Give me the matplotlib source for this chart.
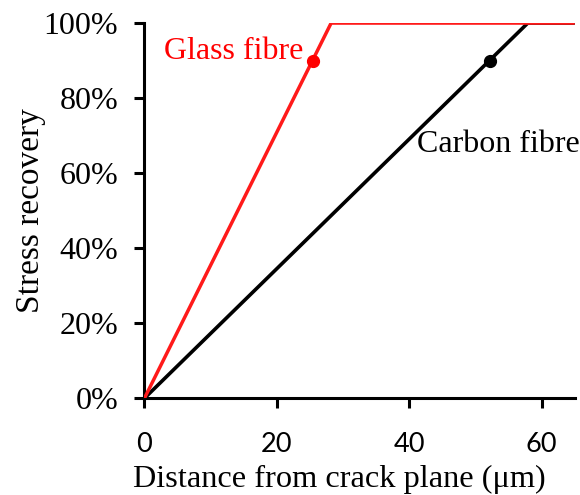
import matplotlib
matplotlib.use("Agg")
import matplotlib.pyplot as plt
from matplotlib.ticker import FuncFormatter

# Stress recovery profiles (distance in µm, recovery in %)
glass_x = [0, 28.2, 65]
glass_y = [0, 100, 100]
carbon_x = [0, 57.9, 65]
carbon_y = [0, 100, 100]

# 90 % recovery points
glass_pt = (25.5, 90)
carbon_pt = (52.2, 90)

x_ticks = [0, 20, 40, 60]
y_ticks = [0, 20, 40, 60, 80, 100]

serif = "Liberation Serif"

fig = plt.figure(figsize=(5.8, 4.95), dpi=100)
ax = fig.add_axes([0.249, 0.1954, 0.742, 0.758])

ax.plot(carbon_x, carbon_y, color="black", lw=2.6, solid_capstyle="butt", zorder=2)
ax.plot(glass_x, glass_y, color="#ff1a1a", lw=2.5, solid_capstyle="butt", zorder=3)
ax.plot(*carbon_pt, "o", color="black", ms=8.5, zorder=4)
ax.plot(*glass_pt, "o", color="#ff0000", ms=8.5, zorder=4)

ax.text(3.0, 92.5, "Glass fibre", color="#ff0000", fontsize=23, family=serif,
        va="center", ha="left")
ax.text(41.2, 67.6, "Carbon fibre", color="black", fontsize=23, family=serif,
        va="center", ha="left")

ax.set_xlim(0, 65)
ax.set_ylim(0, 100)
ax.set_xticks(x_ticks)
ax.set_yticks(y_ticks)
ax.yaxis.set_major_formatter(FuncFormatter(lambda v, p: f"{v:.0f}%"))

for s in ("top", "right"):
    ax.spines[s].set_visible(False)
for s in ("left", "bottom"):
    ax.spines[s].set_linewidth(2.2)

ax.tick_params(axis="both", direction="out", length=7, width=2.2)
for lab in ax.get_xticklabels():
    lab.set_family("Lato")
    lab.set_fontsize(19.5)
for lab in ax.get_yticklabels():
    lab.set_family(serif)
    lab.set_fontsize(23)
ax.tick_params(axis="x", pad=17)
ax.tick_params(axis="y", pad=12)

ax.set_xlabel("Distance from crack plane (μm)", fontsize=23.3, family=serif,
              va="baseline")
ax.xaxis.set_label_coords(0.454, -0.2363)
ax.set_ylabel("Stress recovery", fontsize=24, family=serif)
ax.yaxis.set_label_coords(-0.229, 0.5)

fig.savefig("out.png", dpi=100)
